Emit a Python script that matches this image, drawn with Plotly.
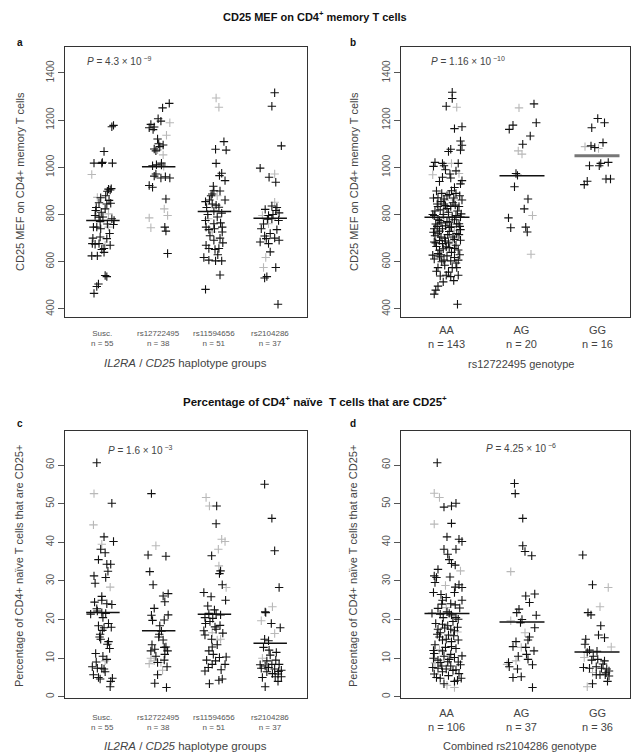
import plotly.graph_objects as go

W, H = 631, 756
FONT = "Liberation Sans, Arial, sans-serif"

# ---------------- data: (jitter offset, value) pairs ----------------
# Panel a: CD25 MEF by haplotype group (black = main cohort, gray = second cohort)
a_groups = ["Susc.", "rs12722495", "rs11594656", "rs2104286"]
a_counts = [55, 38, 51, 37]
a_means = [775, 1003, 813, 784]
a_susc = [(0.16,1172),(0.19,1178),(0.02,1067),(-0.16,1018),(-0.02,1017),(-0.01,1021),(0.17,1018),(0.10,908),(0.13,904),(0.08,899),(-0.04,871),(-0.07,850),(0.07,845),(0.14,848),(-0.13,817),(0.04,824),(-0.14,796),(-0.07,789),(0.16,782),(0.20,775),(-0.17,747),(-0.11,747),(-0.04,740),(0.19,758),(-0.05,705),(0.07,698),(-0.19,677),(-0.14,674),(-0.07,677),(0.13,670),(-0.02,652),(0.02,656),(-0.20,625),(-0.10,625),(0.04,542),(0.07,537),(-0.08,506),(-0.11,495),(-0.16,466),(0.00,790),(-0.05,770),(0.12,720),(0.08,760),(-0.12,830),(0.05,880),(-0.03,810),(0.15,910),(-0.18,700),(0.02,640),(0.11,860)]
a_susc_g = [(-0.20,970),(-0.10,873),(0.10,803),(0.10,747),(0.04,670)]
a_r127 = [(0.19,1271),(0.07,1252),(-0.01,1206),(0.04,1196),(-0.14,1182),(-0.08,1171),(-0.17,1168),(0.08,1095),(0.02,1088),(-0.08,1078),(-0.05,1070),(-0.11,1007),(-0.04,1011),(0.05,1018),(-0.05,972),(0.04,955),(0.20,955),(-0.08,963),(-0.17,923),(-0.11,916),(0.13,866),(0.11,747),(0.13,730),(0.16,635),(0.00,1100),(-0.10,1160),(0.05,1010),(0.12,960),(-0.02,1120)]
a_r127_g = [(0.20,1189),(0.14,1136),(-0.02,1074),(0.08,1053),(0.10,824),(-0.17,786),(0.16,796),(-0.14,744),(0.09,1005)]
a_r115 = [(0.17,1109),(0.02,1077),(0.21,1073),(0.03,1017),(0.13,975),(0.09,965),(0.19,944),(-0.01,901),(-0.04,887),(-0.09,862),(0.19,862),(-0.16,855),(-0.04,845),(0.08,831),(-0.01,815),(0.13,806),(-0.16,775),(0.11,765),(-0.01,761),(-0.15,747),(-0.10,736),(0.14,747),(0.14,726),(-0.01,691),(-0.15,670),(-0.10,656),(0.08,656),(0.01,652),(-0.19,618),(-0.10,607),(0.02,604),(0.13,604),(0.10,544),(-0.16,483),(-0.06,880),(0.10,900),(-0.12,800),(0.05,790),(0.00,740),(-0.08,710),(0.15,680),(0.03,840),(-0.14,830),(0.10,700),(0.06,630),(-0.02,920)]
a_r115_g = [(0.03,1294),(0.08,1255),(0.05,880),(-0.11,782),(-0.04,726)]
a_r210 = [(0.08,1316),(0.03,1259),(0.20,1091),(-0.18,997),(-0.02,958),(0.10,937),(0.03,836),(-0.09,822),(0.10,817),(0.16,807),(-0.03,796),(0.03,782),(0.15,775),(-0.16,740),(0.12,736),(-0.10,709),(-0.07,698),(-0.18,684),(-0.03,677),(0.16,691),(0.00,642),(0.10,576),(-0.06,537),(-0.10,531),(0.14,420),(0.05,800),(-0.05,780),(0.12,830),(-0.12,760),(0.00,720),(0.08,700)]
a_r210_g = [(0.08,972),(0.08,852),(-0.14,796),(-0.03,761),(-0.08,618),(-0.12,576)]

# Panel b: CD25 MEF by rs12722495 genotype
b_groups = ["AA", "AG", "GG"]
b_counts = [143, 20, 16]
b_means = [789, 965, 1049]
b_aa = [(0.07,1318),(0.07,1292),(-0.01,1259),(0.10,1164),(0.20,1172),(0.18,1112),(0.20,1094),(0.18,1073),(0.05,1077),(0.02,1067),(-0.16,1021),(-0.18,1004),(-0.06,1017),(-0.04,1007),(0.15,1017),(-0.06,958),(0.04,972),(0.20,944),(0.10,915),(0.06,901),(0.03,885),(-0.12,871),(-0.04,866),(0.20,862),(-0.04,845),(0.05,834),(-0.12,834),(0.16,834),(-0.09,820),(0.02,810),(-0.17,796),(0.12,796),(0.19,803),(-0.10,775),(0.03,768),(0.16,761),(-0.17,740),(-0.06,740),(0.18,736),(-0.12,719),(0.01,715),(-0.08,705),(-0.17,684),(-0.06,677),(0.18,691),(-0.01,663),(0.10,656),(-0.10,649),(-0.19,628),(-0.10,621),(-0.04,607),(0.05,604),(0.15,607),(-0.12,575),(0.13,575),(-0.09,540),(-0.01,543),(0.05,537),(0.15,543),(-0.12,497),(-0.15,480),(-0.17,463),(0.14,420),
        (-0.14,900),(0.00,880),(0.12,890),(-0.08,855),(0.08,850),(-0.16,815),(0.00,825),(0.14,815),(-0.05,800),(0.07,790),(-0.12,780),(0.00,770),(0.10,778),(-0.15,760),(-0.02,752),(0.06,748),(0.17,750),(-0.10,730),(0.03,728),(0.13,720),(-0.16,710),(-0.03,700),(0.08,705),(-0.10,690),(0.02,680),(0.12,670),(-0.14,665),(-0.05,655),(0.06,640),(-0.12,635),(0.00,625),(0.10,618),(-0.07,600),(0.18,930),(-0.10,940),(0.05,955),(-0.02,990),(0.12,985),
        (-0.18,870),(0.17,880),(-0.07,890),(0.09,870),(-0.13,845),(0.11,840),(-0.02,838),(-0.19,800),(0.18,790),(-0.08,765),(0.13,760),(0.04,745),(-0.13,750),(-0.18,725),(0.16,715),(0.10,695),(-0.02,688),(-0.15,680),(0.15,650),(0.03,660),(-0.08,630),(0.17,630),(-0.17,612),(0.12,595),(-0.03,585),(0.07,575),(-0.14,560),(0.02,556),(0.09,520),(-0.05,515)]
b_aa_g = [(0.13,1255),(0.06,1017),(-0.19,969),(0.16,974),(0.10,862),(-0.04,789),(0.10,733),(0.05,687),(0.02,800),(-0.11,760),(0.08,715),(-0.03,860)]
b_ag = [(0.16,1269),(-0.12,1179),(-0.17,1161),(0.19,1189),(0.11,1133),(0.01,1098),(-0.08,974),(-0.06,966),(-0.10,918),(0.08,866),(0.03,824),(-0.18,786),(-0.15,744),(0.05,747),(0.07,726)]
b_ag_g = [(-0.04,1252),(-0.05,1070),(0.00,1056),(0.14,796),(0.12,632)]
b_gg = [(0.01,1207),(0.10,1189),(-0.07,1168),(-0.08,1091),(-0.03,1084),(0.08,1105),(-0.10,1007),(0.03,1007),(0.05,1017),(0.15,1021),(0.12,951),(0.18,951),(-0.17,927),(-0.13,941)]
b_gg_g = [(-0.16,1088),(0.02,1080)]

# Panel c: % CD25+ of naive CD4 T cells by haplotype group
c_groups = a_groups
c_counts = [55, 38, 51, 37]
c_means = [21.8, 17.1, 21.4, 13.9]
c_susc = [(-0.11,60.6),(0.16,50.1),(0.02,41.4),(0.19,40.2),(-0.04,38.2),(0.04,37.3),(0.07,34.3),(0.14,34.3),(-0.16,31.3),(0.05,30.9),(-0.14,29.4),(-0.02,25.0),(0.07,24.1),(0.16,23.9),(-0.11,22.8),(-0.22,21.4),(-0.10,22.2),(0.05,21.6),(-0.02,21.8),(-0.08,18.4),(-0.01,17.2),(0.02,17.9),(-0.05,16.2),(0.10,14.3),(0.08,13.6),(-0.04,14.9),(-0.13,11.2),(0.07,9.7),(-0.19,7.8),(-0.10,7.4),(-0.02,7.4),(0.02,7.2),(-0.17,5.7),(-0.08,5.0),(-0.05,4.6),(0.17,4.8),(0.14,4.0),(0.13,2.6),(0.00,20.5),(0.10,19.0),(-0.06,15.5),(0.12,12.5),(-0.12,9.0),(0.04,6.5),(-0.02,26.0),(0.09,32.5),(-0.08,35.5),(0.15,18.0),(0.00,10.5),(-0.15,24.5)]
c_susc_g = [(-0.16,52.6),(-0.17,44.5),(-0.02,39.5),(0.13,28.4),(0.04,9.3)]
c_r127 = [(-0.13,52.6),(-0.19,36.7),(0.13,36.4),(-0.16,32.4),(-0.10,29.0),(0.08,26.1),(0.17,26.7),(0.11,24.6),(-0.08,22.9),(-0.13,21.1),(-0.11,19.8),(0.17,21.2),(0.10,19.9),(0.02,18.4),(0.01,16.2),(0.08,14.7),(0.10,12.8),(-0.14,11.9),(-0.07,12.3),(0.13,12.9),(0.16,11.9),(0.11,11.0),(-0.02,8.9),(-0.02,5.7),(-0.07,3.5),(0.14,2.4),(0.00,15.5),(-0.05,10.5),(0.10,9.5),(0.05,17.0),(-0.12,13.5),(0.15,7.8)]
c_r127_g = [(-0.05,39.1),(-0.14,10.0),(-0.08,9.3),(-0.17,8.6),(0.04,8.9),(0.07,6.9)]
c_r115 = [(0.04,49.4),(0.03,44.8),(-0.05,36.5),(0.11,32.6),(0.09,31.9),(0.14,29.0),(-0.19,27.0),(-0.06,25.9),(0.20,25.0),(-0.10,21.6),(0.03,21.4),(0.11,21.2),(-0.17,20.5),(-0.03,20.3),(-0.16,19.0),(0.01,18.1),(0.03,17.5),(-0.19,17.1),(-0.05,14.9),(-0.17,16.0),(-0.04,12.9),(-0.10,11.9),(0.09,10.2),(0.21,10.3),(0.02,9.3),(-0.04,8.4),(-0.17,6.7),(-0.11,7.6),(0.19,8.4),(-0.09,3.4),(0.08,4.3),(0.14,4.6),(0.00,22.5),(-0.08,19.5),(0.10,18.5),(-0.12,23.5),(0.05,13.5),(0.15,16.5),(-0.02,11.0),(0.12,7.0),(-0.14,9.5)]
c_r115_g = [(-0.15,51.6),(-0.09,49.4),(0.13,40.8),(0.19,40.2),(0.07,38.2),(0.08,33.9),(0.21,28.3),(-0.04,16.6),(0.05,14.7),(0.11,14.9)]
c_r210 = [(-0.10,55.0),(0.03,46.2),(0.08,37.8),(0.16,28.3),(-0.09,22.0),(-0.08,21.8),(0.02,19.0),(0.18,17.9),(-0.10,14.9),(-0.03,14.5),(-0.02,12.1),(-0.06,9.3),(0.10,9.5),(-0.18,8.3),(-0.09,8.0),(0.03,8.4),(0.16,8.4),(-0.16,7.4),(-0.03,7.6),(0.08,7.2),(0.20,6.9),(0.04,6.0),(0.15,6.6),(0.14,5.9),(-0.14,5.0),(0.09,5.2),(0.20,5.2),(0.14,4.0),(-0.09,2.6),(0.00,10.8),(-0.06,6.5),(0.11,11.5),(-0.12,12.8)]
c_r210_g = [(0.04,23.3),(-0.16,19.7),(0.08,16.4),(-0.14,10.0)]

# Panel d: % CD25+ of naive CD4 T cells by combined rs2104286 genotype
d_groups = ["AA", "AG", "GG"]
d_counts = [106, 37, 36]
d_means = [21.6, 19.4, 11.6]
d_aa = [(-0.13,60.6),(-0.04,49.1),(0.06,49.4),(0.12,50.1),(0.06,44.9),(0.00,41.4),(0.16,40.8),(0.20,40.2),(-0.04,38.2),(0.12,38.2),(0.01,36.9),(0.06,34.5),(0.11,34.1),(-0.17,31.3),(-0.14,30.9),(0.04,31.0),(-0.16,29.6),(0.11,28.4),(0.16,29.0),(0.20,28.3),(-0.18,27.0),(-0.06,25.0),(-0.01,25.7),(0.05,24.1),(0.11,23.8),(0.20,25.0),(-0.12,22.9),(-0.20,21.6),(-0.09,21.4),(0.03,21.6),(0.06,21.2),(0.12,20.5),(0.15,20.1),(-0.06,18.8),(0.01,18.4),(-0.12,17.5),(0.05,17.5),(0.10,17.1),(-0.09,16.6),(-0.13,16.2),(-0.06,14.7),(0.06,14.3),(0.15,14.7),(-0.01,14.9),(-0.17,11.2),(-0.06,11.9),(0.03,9.7),(0.10,10.2),(0.20,10.6),(-0.18,10.0),(-0.09,8.9),(0.01,9.1),(-0.19,7.6),(-0.12,7.4),(-0.07,8.0),(-0.01,7.2),(0.05,8.0),(0.18,8.3),(-0.17,5.9),(-0.09,4.8),(-0.04,3.4),(0.10,4.0),(0.14,4.3),(0.19,4.8),
        (0.00,22.0),(-0.05,20.5),(0.08,19.5),(-0.15,19.0),(0.14,18.0),(-0.03,17.8),(0.02,16.0),(-0.10,15.5),(0.09,15.8),(-0.16,13.5),(0.12,12.5),(-0.02,12.8),(0.05,11.0),(-0.12,9.5),(0.15,9.0),(-0.06,6.5),(0.08,6.8),(-0.14,5.0),(0.02,5.5),(0.16,6.0),(-0.08,26.5),(0.10,27.0),(-0.12,33.0),(0.03,35.5),(-0.07,24.0),(0.17,23.0),(-0.18,12.0),(0.06,13.0),(-0.04,10.5),(0.12,7.0)]
d_aa_g = [(-0.17,52.7),(-0.10,51.6),(-0.17,44.7),(0.18,32.6),(-0.01,23.1),(0.10,2.4),(-0.10,12.2),(0.07,20.8),(-0.02,28.8),(0.14,16.8),(-0.16,8.8),(0.00,3.0)]
d_ag = [(-0.10,55.2),(-0.09,52.6),(0.01,46.2),(0.01,39.1),(0.04,37.6),(0.13,36.5),(0.05,26.1),(0.17,26.6),(0.10,24.4),(-0.04,22.7),(-0.07,21.8),(-0.02,19.2),(0.19,21.1),(0.17,17.9),(-0.08,14.3),(0.08,14.7),(0.05,12.8),(0.16,11.9),(0.08,9.7),(-0.18,8.9),(-0.17,7.8),(-0.06,7.2),(0.14,8.3),(-0.12,5.0),(-0.01,5.2),(0.14,2.4),(0.00,20.0),(-0.05,10.5),(0.10,15.5),(-0.12,13.0),(0.06,11.0)]
d_ag_g = [(-0.15,32.4),(-0.15,19.7),(0.04,16.6),(-0.01,12.8),(-0.20,8.4),(-0.08,9.3)]
d_gg = [(-0.19,36.7),(-0.06,29.0),(-0.12,21.8),(-0.08,21.2),(0.05,18.4),(0.02,16.0),(0.10,15.3),(-0.15,14.9),(-0.16,13.6),(-0.10,12.1),(-0.13,11.5),(-0.07,9.5),(0.01,9.7),(0.10,9.3),(-0.18,7.6),(-0.10,7.4),(-0.01,7.8),(0.06,7.4),(0.13,7.2),(0.16,6.7),(-0.01,5.7),(0.04,5.7),(0.11,5.7),(0.16,5.4),(0.14,4.0),(-0.06,3.4),(0.00,11.8),(0.08,8.5),(-0.05,10.5),(0.12,6.2)]
d_gg_g = [(0.15,28.3),(0.04,23.3),(0.19,12.9),(-0.17,10.2),(-0.06,6.3),(-0.13,2.6)]

# ---------------- layout helpers ----------------
def px_x(p):
    return p / W

def px_y(p):
    return 1 - p / H

fig = go.Figure()

panels = [
    dict(k="", blk=[a_susc, a_r127, a_r115, a_r210], gry=[a_susc_g, a_r127_g, a_r115_g, a_r210_g],
         means=a_means, xd=(65, 307), yd=(47, 317), xr=[0.32, 4.66], yr=[366, 1510],
         yt=[400, 600, 800, 1000, 1200, 1400], mean_col=["#111"] * 4, mean_w=[1.5] * 4),
    dict(k="2", blk=[b_aa, b_ag, b_gg], gry=[b_aa_g, b_ag_g, b_gg_g],
         means=b_means, xd=(401, 630), yd=(47, 317), xr=[0.387, 3.44], yr=[366, 1510],
         yt=[400, 600, 800, 1000, 1200, 1400], mean_col=["#111", "#111", "#777"], mean_w=[1.5, 1.5, 3]),
    dict(k="3", blk=[c_susc, c_r127, c_r115, c_r210], gry=[c_susc_g, c_r127_g, c_r115_g, c_r210_g],
         means=c_means, xd=(65, 307), yd=(431, 698), xr=[0.32, 4.66], yr=[-0.3, 68.8],
         yt=[0, 10, 20, 30, 40, 50, 60], mean_col=["#111"] * 4, mean_w=[1.5] * 4),
    dict(k="4", blk=[d_aa, d_ag, d_gg], gry=[d_aa_g, d_ag_g, d_gg_g],
         means=d_means, xd=(401, 630), yd=(431, 698), xr=[0.387, 3.44], yr=[-0.3, 68.8],
         yt=[0, 10, 20, 30, 40, 50, 60], mean_col=["#111"] * 3, mean_w=[1.5] * 3),
]

for p in panels:
    xa = "x" + p["k"]
    ya = "y" + p["k"]
    for sets, col in ((p["gry"], "#b8b8b8"), (p["blk"], "#111111")):
        xs, ys = [], []
        for i, pts in enumerate(sets, start=1):
            for j, v in pts:
                xs.append(i + j)
                ys.append(v)
        fig.add_trace(go.Scatter(
            x=xs, y=ys, mode="markers", xaxis=xa, yaxis=ya, showlegend=False,
            marker=dict(symbol="cross-thin", size=6, line=dict(width=1.1, color=col), color=col),
            hoverinfo="skip"))
    for i, m in enumerate(p["means"], start=1):
        fig.add_trace(go.Scatter(
            x=[i - 0.3, i + 0.3], y=[m, m], mode="lines", xaxis=xa, yaxis=ya, showlegend=False,
            line=dict(color=p["mean_col"][i - 1], width=p["mean_w"][i - 1]), hoverinfo="skip"))

axis_common_x = dict(showgrid=False, zeroline=False, showticklabels=False, ticks="",
                     showline=True, mirror=True, linecolor="#333", linewidth=1.2)
axis_common_y = dict(showgrid=False, zeroline=False, ticks="outside", ticklen=6, tickwidth=1,
                     tickcolor="#555", tickangle=-90, showline=True, mirror=True,
                     linecolor="#333", linewidth=1.2,
                     tickfont=dict(family=FONT, size=10, color="#555"))

lay = {}
for p in panels:
    k = p["k"]
    lay["xaxis" + k] = dict(axis_common_x, domain=[px_x(p["xd"][0]), px_x(p["xd"][1])],
                            range=p["xr"], anchor="y" + k)
    lay["yaxis" + k] = dict(axis_common_y, domain=[px_y(p["yd"][1]), px_y(p["yd"][0])],
                            range=p["yr"], anchor="x" + k, tickvals=p["yt"])

ann = []

def text(x, y, s, size=10, color="#222", xanchor="center", yanchor="middle", angle=0, xref="paper"):
    ann.append(dict(x=x if xref != "paper" else px_x(x), y=px_y(y), xref=xref, yref="paper",
                    text=s, showarrow=False, xanchor=xanchor, yanchor=yanchor, textangle=angle,
                    font=dict(family=FONT, size=size, color=color)))

# section titles
text(315, 16, "<b>CD25 MEF on CD4<sup>+</sup> memory T cells</b>", size=11, color="#111")
text(315, 401, "<b>Percentage of CD4<sup>+</sup> naïve  T cells that are CD25<sup>+</sup></b>", size=11.5, color="#111")
# panel letters
text(20, 43, "<b>a</b>", size=10, color="#111")
text(353, 43, "<b>b</b>", size=10, color="#111")
text(20, 423, "<b>c</b>", size=10, color="#111")
text(353, 423, "<b>d</b>", size=10, color="#111")
# P values
text(85, 61, "<i>P</i> = 4.3 × 10<sup> −9</sup>", size=10, color="#444", xanchor="left")
text(429, 61, "<i>P</i> = 1.16 × 10<sup> −10</sup>", size=10, color="#444", xanchor="left")
text(106, 450, "<i>P</i> = 1.6 × 10<sup> −3</sup>", size=10, color="#444", xanchor="left")
text(484, 448, "<i>P</i> = 4.25 × 10<sup> −6</sup>", size=10, color="#444", xanchor="left")
# y titles
text(20, 182, "CD25 MEF on CD4+ memory T cells", size=11, color="#444", angle=-90)
text(354, 182, "CD25 MEF on CD4+ memory T cells", size=11, color="#444", angle=-90)
text(19, 566, "Percentage of CD4+ naïve T cells that are CD25+", size=11, color="#444", angle=-90)
text(353, 566, "Percentage of CD4+ naïve T cells that are CD25+", size=11, color="#444", angle=-90)
# category labels
for i, (g, n) in enumerate(zip(a_groups, a_counts), start=1):
    text(i, 339, f"{g}<br>n = {n}", size=8, color="#555", xref="x")
for i, (g, n) in enumerate(zip(c_groups, c_counts), start=1):
    text(i, 722, f"{g}<br>n = {n}", size=8, color="#555", xref="x3")
for i, (g, n) in enumerate(zip(b_groups, b_counts), start=1):
    text(i, 337, f"{g}<br>n = {n}", size=11, color="#444", xref="x2")
for i, (g, n) in enumerate(zip(d_groups, d_counts), start=1):
    text(i, 720, f"{g}<br>n = {n}", size=11, color="#444", xref="x4")
# x titles
text(185, 363, "<i>IL2RA</i> / <i>CD25</i> haplotype groups", size=11.5, color="#444")
text(185, 746, "<i>IL2RA</i> / <i>CD25</i> haplotype groups", size=11.5, color="#444")
text(521, 364, "rs12722495 genotype", size=11, color="#444")
text(520, 746, "Combined rs2104286 genotype", size=11, color="#444")

fig.update_layout(
    width=W, height=H, margin=dict(l=0, r=0, t=0, b=0),
    paper_bgcolor="white", plot_bgcolor="white", hovermode=False,
    showlegend=False, annotations=ann, font=dict(family=FONT), **lay)

fig.write_html("out.html", config={"displayModeBar": False, "staticPlot": True},
               post_script="document.body.style.margin='0';document.body.style.overflow='hidden';")
